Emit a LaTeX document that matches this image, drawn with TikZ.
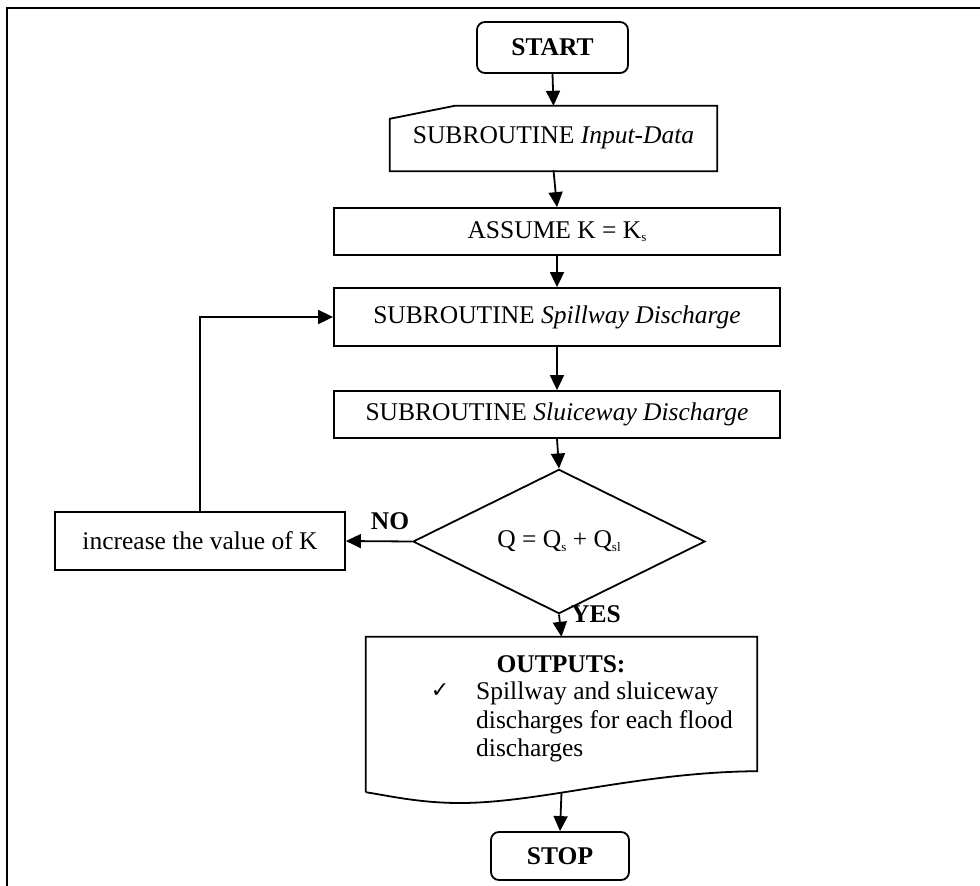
\documentclass[tikz,border=0pt]{standalone}
\usepackage{fontspec}
\setmainfont{Liberation Serif}
\newfontfamily\symfont{DejaVu Sans}
\usetikzlibrary{arrows.meta,shapes.geometric,calc}
\newcommand\sbs[1]{\raisebox{-0.3ex}{\fontsize{13}{13}\selectfont #1}}
\begin{document}
\begin{tikzpicture}[x=1pt,y=-1pt,
  every node/.style={font=\fontsize{25.5}{29}\selectfont, inner sep=0pt},
  ln/.style={line width=1.8pt},
  box/.style={ln, draw, minimum width=446pt, minimum height=47pt},
  term/.style={ln, draw, rounded corners=8pt, font=\fontsize{25.5}{29}\selectfont\bfseries},
  arr/.style={ln, -{Triangle[length=15pt,width=14pt]}},
  lbl/.style={font=\fontsize{25.5}{29}\selectfont\bfseries}
]
\useasboundingbox (0,0) rectangle (980,886);
% frame
\draw[line width=2.2pt] (7,886) -- (7,8) -- (980,8);

% nodes
\node[term, minimum width=151pt, minimum height=51pt] (start) at (552.5,47.5) {START};
\node[minimum width=327pt, minimum height=64pt] (input) at (553.5,138) {SUBROUTINE \textit{Input-Data}};
\draw[ln] ($(input.south west)+(0,1)$) -- ($(input.north west)+(0,13)$) -- ($(input.north west)+(65,0)$) -- (input.north east) -- ($(input.south east)+(0,1)$) -- cycle;
\node[box] (assume) at (557,231.5) {ASSUME K = K\sbs{s}};
\node[box, minimum height=58pt] (spill) at (557,317) {SUBROUTINE \textit{Spillway Discharge}};
\node[box] (sluice) at (557,414.5) {SUBROUTINE \textit{Sluiceway Discharge}};
\node[ln, draw, diamond, minimum width=292pt, minimum height=93pt] (dia) at (559,541.5) {Q = Q\sbs{s} + Q\sbs{sl}};
\node[box, minimum width=290pt, minimum height=58pt] (inc) at (200,541) {increase the value of K};
\node[minimum width=391pt, minimum height=155pt] (out) at (561.5,714.5) {};
\draw[ln] (out.south west) -- (out.north west) -- (out.north east) -- ($(out.south east)+(0,-21)$)
  .. controls (640,772) and (540,803) .. (460,803)
  .. controls (420,803) and (390,796) .. (out.south west);
\node[lbl, anchor=base] (outh) at (561,672) {OUTPUTS:};
\node[anchor=base, font=\fontsize{22}{22}\selectfont\symfont] (chk) at (440,697) {✓};
\node[anchor=base west] (l1) at (476,699) {Spillway and sluiceway};
\node[anchor=base west] (l2) at (476,728) {discharges for each flood};
\node[anchor=base west] (l3) at (476,756) {discharges};
\node[term, minimum width=138pt, minimum height=48pt] (stop) at (560,856) {STOP};

% labels
\node[lbl] (no) at (390,521) {NO};
\node[lbl] (yes) at (596,614) {YES};

% connectors
\draw[arr] (start.south) -- (input.north);
\draw[arr] (input.south) -- (assume.north);
\draw[arr] (assume.south) -- (spill.north);
\draw[arr] (spill.south) -- (sluice.north);
\draw[arr] (sluice.south) -- (dia.north);
\draw[arr] (dia.west) -- (inc.east);
\draw[arr] (inc.north) -- (inc.north |- spill.west) -- (spill.west);
\draw[arr] (dia.south) -- (out.north);
\draw[arr] (out.south) -- (stop.north);
\end{tikzpicture}
\end{document}
